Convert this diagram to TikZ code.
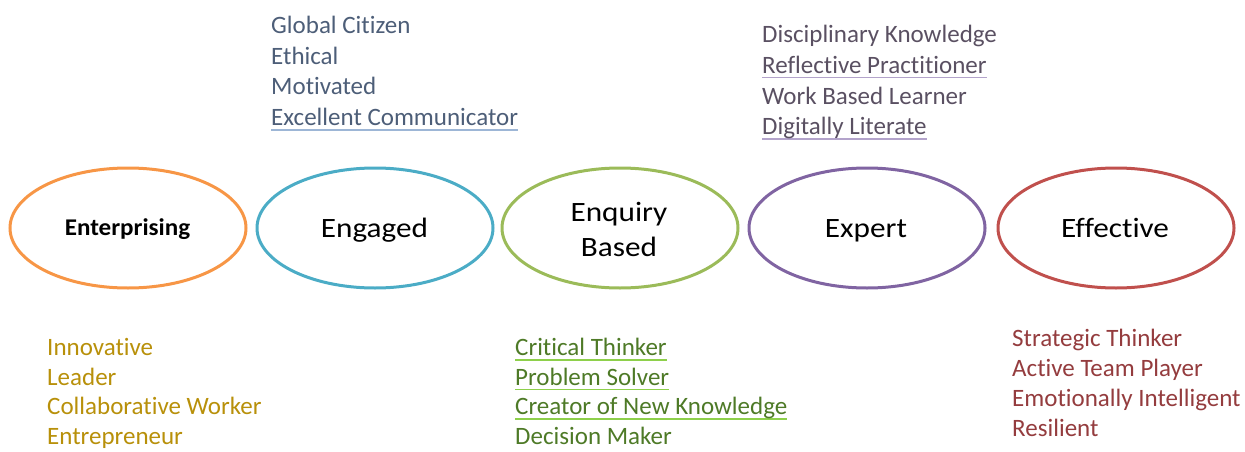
\documentclass[tikz,border=0pt]{standalone}
\usepackage{fontspec}
\setmainfont{Carlito}[RawFeature={-liga;-clig;-calt;-dlig}]
\usetikzlibrary{shapes.geometric}
\definecolor{orangeC}{HTML}{F79646}
\definecolor{blueC}{HTML}{4BACC6}
\definecolor{greenC}{HTML}{9BBB59}
\definecolor{purpleC}{HTML}{8064A2}
\definecolor{redC}{HTML}{C0504D}
\definecolor{engT}{HTML}{4D5E78}
\definecolor{engU}{HTML}{9DB6D6}
\definecolor{expT}{HTML}{5A5062}
\definecolor{expU}{HTML}{B3A3CB}
\definecolor{entT}{HTML}{B8900A}
\definecolor{enqT}{HTML}{4E7A27}
\definecolor{enqU}{HTML}{8ED04B}
\definecolor{effT}{HTML}{943C3E}
\newcommand\cul[2]{\setbox0\hbox{#2}\rlap{\color{#1}\rule[-5pt]{\wd0}{1.5pt}}\box0}
\newcommand\sx[1]{\scalebox{1.115}[1]{#1}}
\begin{document}
\begin{tikzpicture}[x=1pt,y=-1pt,
  ell/.style={ellipse, draw, line width=3pt, minimum width=236pt, minimum height=120pt,
    inner sep=0pt},
  lbl/.style={anchor=base, inner sep=0pt, font=\fontsize{28}{34}\selectfont},
  item/.style={anchor=base west, inner sep=0pt, font=\fontsize{25}{30}\selectfont}]
\useasboundingbox (0,0) rectangle (1245,452);
\node[ell, draw=orangeC] (enter) at (128,228) {};
\node[ell, draw=blueC] (engaged) at (375,228) {};
\node[ell, draw=greenC] (enquiry) at (620,228) {};
\node[ell, draw=purpleC] (expert) at (867,228) {};
\node[ell, draw=redC] (effective) at (1116,228) {};
\node[lbl, font=\bfseries\fontsize{24}{28}\selectfont] (enterT) at (127.5,235.7) {\scalebox{1.045}[1]{Enterprising}};
\node[lbl] (engagedT) at (374.5,237.3) {\sx{Engaged}};
\node[lbl] (enquiryT1) at (619,221.7) {\sx{Enquiry}};
\node[lbl] (enquiryT2) at (619,256.7) {\sx{Based}};
\node[lbl] (expertT) at (866,237.3) {\sx{Expert}};
\node[lbl] (effectiveT) at (1115,237.3) {\sx{Effective}};
% Engaged list
\node[item, text=engT] (g1) at (271,34) {Global Citizen};
\node[item, text=engT] (g2) at (271,64.5) {Ethical};
\node[item, text=engT] (g3) at (271,95) {Motivated};
\node[item, text=engT] (g4) at (271,125.5) {\cul{engU}{Excellent Communicator}};
% Expert list
\node[item, text=expT] (x1) at (762,43) {Disciplinary Knowledge};
\node[item, text=expT] (x2) at (762,73.5) {\cul{expU}{Reflective Practitioner}};
\node[item, text=expT] (x3) at (762,104) {Work Based Learner};
\node[item, text=expT] (x4) at (762,134.5) {\cul{expU}{Digitally Literate}};
% Enterprising list
\node[item, text=entT] (n1) at (47,355.5) {Innovative};
\node[item, text=entT] (n2) at (47,385) {Leader};
\node[item, text=entT] (n3) at (47,414.5) {Collaborative Worker};
\node[item, text=entT] (n4) at (47,444) {Entrepreneur};
% Enquiry list
\node[item, text=enqT] (q1) at (515,355.5) {\cul{enqU}{Critical Thinker}};
\node[item, text=enqT] (q2) at (515,385) {\cul{enqU}{Problem Solver}};
\node[item, text=enqT] (q3) at (515,414.5) {\cul{enqU}{Creator of New Knowledge}};
\node[item, text=enqT] (q4) at (515,444) {Decision Maker};
% Effective list
\node[item, text=effT] (f1) at (1012,346) {Strategic Thinker};
\node[item, text=effT] (f2) at (1012,376) {Active Team Player};
\node[item, text=effT] (f3) at (1012,406) {Emotionally Intelligent};
\node[item, text=effT] (f4) at (1012,436) {Resilient};
\end{tikzpicture}
\end{document}
